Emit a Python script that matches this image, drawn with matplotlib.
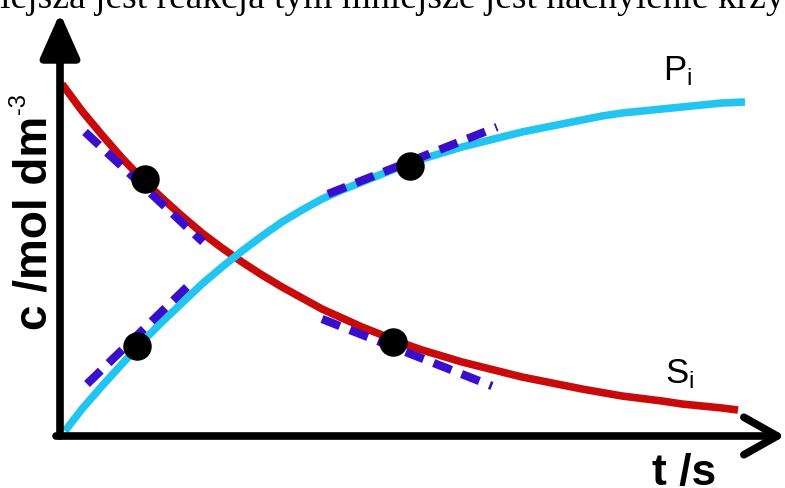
import matplotlib.pyplot as plt
import numpy as np

# curves (t in px-like units, c in px-like units)
t_s = [0, 20, 40, 60, 80, 100, 120, 140, 160, 180, 200, 220, 240, 260, 280,
       300, 320, 340, 360, 380, 400, 420, 440, 460, 480, 500, 520, 540, 560,
       580, 600, 620, 640, 660, 676]
c_s = [350, 323, 299, 276, 255, 236, 218, 201, 186, 172, 159, 147, 136, 125,
       116, 107, 99, 91, 84, 78, 72, 67, 62, 57, 53, 49, 45, 41.5, 38, 35.5,
       33, 30, 28, 26, 24]
t_p = [3, 20, 40, 60, 80, 100, 120, 140, 160, 180, 200, 220, 240, 260, 280,
       300, 320, 340, 360, 380, 400, 420, 440, 460, 480, 500, 520, 540, 560,
       580, 600, 620, 640, 660, 683]
c_p = [3, 25, 48, 70, 92, 112, 131, 150, 167, 183, 198, 212, 224, 235, 244,
       252, 260, 268, 275, 281, 287, 292, 297, 302, 306, 310, 314, 318, 321,
       323, 325, 327, 329, 331, 332]

# tangent segments (start, end) and touch points
tangents = [
    [(23, 302), (141, 192)],
    [(260, 115), (430, 48)],
    [(25, 50), (125, 147)],
    [(266, 240), (435, 307)],
]
points_t = [83, 331, 75, 348]
points_c = [255, 92, 88, 268]

title_text = "Im wolniejsza jest reakcja tym mniejsze jest nachylenie krzywej"

plt.rcParams['font.family'] = ['Liberation Sans', 'DejaVu Sans']

fig = plt.figure(figsize=(7.85, 4.89), dpi=100)
ax = fig.add_axes([0, 0, 1, 1])
ax.set_xlim(-62, 723)
ax.set_ylim(-54, 435)
ax.axis('off')

# curves
ax.plot(t_s, c_s, color='#c80a0a', lw=5.5, solid_capstyle='butt',
        solid_joinstyle='round', zorder=3)
ax.plot(t_p, c_p, color='#22c5f0', lw=5.5, solid_capstyle='butt',
        solid_joinstyle='round', zorder=3)

# tangents
for (a, b) in tangents:
    ax.plot([a[0], b[0]], [a[1], b[1]], color='#3a0fcc', lw=6,
            dashes=(2.3, 1.3), dash_capstyle='butt', zorder=4)

ax.plot(points_t, points_c, 'o', color='black', ms=19.5, zorder=5)

# axes with arrows
ax.annotate('', xy=(-2, 421), xytext=(-2, -2),
            arrowprops=dict(arrowstyle='-|>,head_length=0.9,head_width=0.4',
                            mutation_scale=30, lw=5.5, color='black',
                            shrinkA=0, shrinkB=0))
ax.annotate('', xy=(723, -2), xytext=(-6, -2),
            arrowprops=dict(arrowstyle='->,head_length=0.8,head_width=0.45',
                            mutation_scale=30, lw=5.5, color='black',
                            shrinkA=0, shrinkB=0))

# labels
ax.text(-27, 105, 'c /mol dm', rotation=90,
        fontsize=33, fontweight='bold', ha='center', va='bottom')
ax.text(-43, 342, '-3', rotation=90, fontsize=17, ha='center', va='top')
ax.text(590, -50, 't /s', fontsize=32, fontweight='bold', ha='left', va='baseline')
ax.text(601, 355, r'$\mathregular{P_i}$', fontsize=25, ha='left', va='baseline')
ax.text(603, 52, r'$\mathregular{S_i}$', fontsize=25, ha='left', va='baseline')

# cut-off sentence at the top
r = fig.canvas.get_renderer()
tmp = fig.text(0, 0, "Im woln", fontsize=27, family='Liberation Serif')
w = tmp.get_window_extent(r).width
tmp.remove()
fig.text(-w / 785, 1 - 8 / 489, title_text, fontsize=27,
         family='Liberation Serif', ha='left', va='baseline')

fig.savefig('out.png', dpi=100)
